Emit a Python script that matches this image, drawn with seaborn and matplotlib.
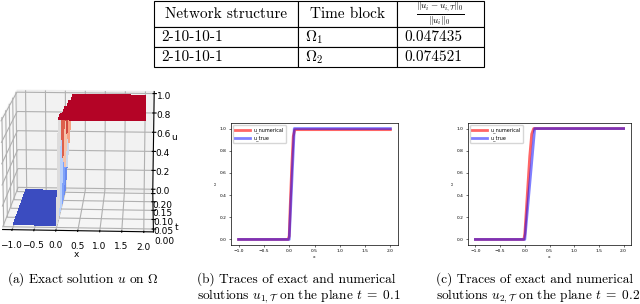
import numpy as np
import pandas as pd
import matplotlib
matplotlib.use("Agg")
import matplotlib.pyplot as plt
import seaborn as sns

plt.rcParams["mathtext.fontset"] = "cm"

# table
table_cols = ["Network structure", "Time block",
              r"$\frac{\Vert u_i-u_{i,\mathcal{T}}\Vert_0}{\Vert u_i\Vert_0}$"]
table_rows = [["2-10-10-1", r"$\Omega_1$", "0.047435"],
              ["2-10-10-1", r"$\Omega_2$", "0.074521"]]

# exact solution surface (panel a)
x_grid = [-1.0, 0.0, 0.05, 0.1, 0.15, 0.2, 2.0]
t_grid = [0.0, 0.05, 0.1, 0.15, 0.2]
u_grid = [
    [0, 0, 1.0, 1.0, 1.0, 1.0, 1.0],
    [0, 0, 1.0, 1.0, 1.0, 1.0, 1.0],
    [0, 0, 0.5, 1.0, 1.0, 1.0, 1.0],
    [0, 0, 0.33, 0.67, 1.0, 1.0, 1.0],
    [0, 0, 0.25, 0.5, 0.75, 1.0, 1.0],
]

# traces at t = 0.1 (panel b)
x_true_1 = [-1.0, 0.0, 0.1, 2.0]
u_true_1 = [0.0, 0.0, 1.0, 1.0]
x_num_1 = [-1.0, -0.02, 0.0, 0.02, 0.05, 0.08, 0.11, 2.0]
u_num_1 = [0.0, 0.0, 0.03, 0.3, 0.65, 0.93, 0.99, 0.99]

# traces at t = 0.2 (panel c)
x_true_2 = [-1.0, 0.0, 0.2, 2.0]
u_true_2 = [0.0, 0.0, 1.0, 1.0]
x_num_2 = [-1.0, -0.02, 0.0, 0.05, 0.1, 0.14, 0.18, 2.0]
u_num_2 = [0.0, 0.0, 0.05, 0.4, 0.75, 0.95, 1.0, 1.0]

fig = plt.figure(figsize=(6.4, 3.04), dpi=100)

# --- panel a: 3D surface ---
ax3 = fig.add_axes([-0.084, 0.104, 0.414, 0.736], projection="3d")
X, T = np.meshgrid(x_grid, t_grid)
U = np.array(u_grid)
ax3.plot_surface(X, T, U, cmap="coolwarm", linewidth=0, antialiased=False)
ax3.view_init(elev=14, azim=-87)
ax3.set_xticks([-1.0, -0.5, 0.0, 0.5, 1.0, 1.5, 2.0])
ax3.set_yticks([0.0, 0.05, 0.1, 0.15, 0.2])
ax3.set_xlabel("x", fontsize=6.5, labelpad=-8)
ax3.set_ylabel("t", fontsize=6.5, labelpad=-7)
ax3.set_zlabel("u", fontsize=6.5, labelpad=-8)
ax3.tick_params(labelsize=6.5, pad=-2)

# --- table (drawn on top) ---
ax_tab = fig.add_axes([0, 0, 1, 1])
ax_tab.axis("off")
ax_tab.set_zorder(10)
tab = ax_tab.table(cellText=table_rows, colLabels=table_cols, cellLoc="left",
                   bbox=[154 / 640, 1 - 67 / 304, 330 / 640, 66 / 304])
tab.auto_set_font_size(False)
col_px = [144, 99, 87]
for (r, c), cell in tab.get_celld().items():
    cell.set_width(col_px[c] / 640)
    cell.set_height((26 if r == 0 else 20) / 304)
    cell.set_linewidth(0.8)
    txt = cell.get_text()
    txt.set_fontfamily("cmr10")
    txt.set_fontsize(11)
    cell.PAD = 7 / col_px[c]
    if r == 0:
        cell._loc = "center"
        txt.set_horizontalalignment("center")
        if c == 2:
            txt.set_fontsize(9.5)

# --- panels b, c ---
def trace_panel(rect, x_num, u_num, x_true, u_true):
    ax = fig.add_axes(rect)
    num = pd.DataFrame({"x": x_num, "u": u_num})
    true = pd.DataFrame({"x": x_true, "u": u_true})
    sns.lineplot(data=num, x="x", y="u", color="red", alpha=0.6, lw=2,
                 label="u_numerical", ax=ax)
    sns.lineplot(data=true, x="x", y="u", color="blue", alpha=0.5, lw=2,
                 label="u_true", ax=ax)
    ax.set_xticks([-1.0, -0.5, 0.0, 0.5, 1.0, 1.5, 2.0])
    ax.set_yticks([0.0, 0.2, 0.4, 0.6, 0.8, 1.0])
    ax.tick_params(labelsize=3.2, length=1.5, width=0.4, pad=1.5)
    ax.set_xlabel("x", fontsize=3.2, labelpad=1)
    ax.set_ylabel("u", fontsize=3.2, labelpad=2)
    for s in ax.spines.values():
        s.set_linewidth(0.5)
    ax.legend(loc="upper left", fontsize=3.5, handlelength=3, borderpad=0.4)
    return ax

trace_panel([231 / 640, 1 - 245 / 304, 167 / 640, 122 / 304],
            x_num_1, u_num_1, x_true_1, u_true_1)
trace_panel([468 / 640, 1 - 245 / 304, 163 / 640, 122 / 304],
            x_num_2, u_num_2, x_true_2, u_true_2)

# --- captions ---
cap_kw = dict(fontsize=9.6, family="cmr10", va="center", ha="left")
fig.text(7 / 640, 1 - 279 / 304, r"(a) Exact solution $u$ on $\Omega$", **cap_kw)
fig.text(197 / 640, 1 - 279 / 304, "(b) Traces of exact and numerical", **cap_kw)
fig.text(197 / 640, 1 - 296 / 304,
         r"solutions $u_{1,\mathcal{T}}$ on the plane $t\;=\;0.1$", **cap_kw)
fig.text(436 / 640, 1 - 279 / 304, "(c) Traces of exact and numerical", **cap_kw)
fig.text(436 / 640, 1 - 296 / 304,
         r"solutions $u_{2,\mathcal{T}}$ on the plane $t\;=\;0.2$", **cap_kw)

fig.savefig("out.png", dpi=100)
